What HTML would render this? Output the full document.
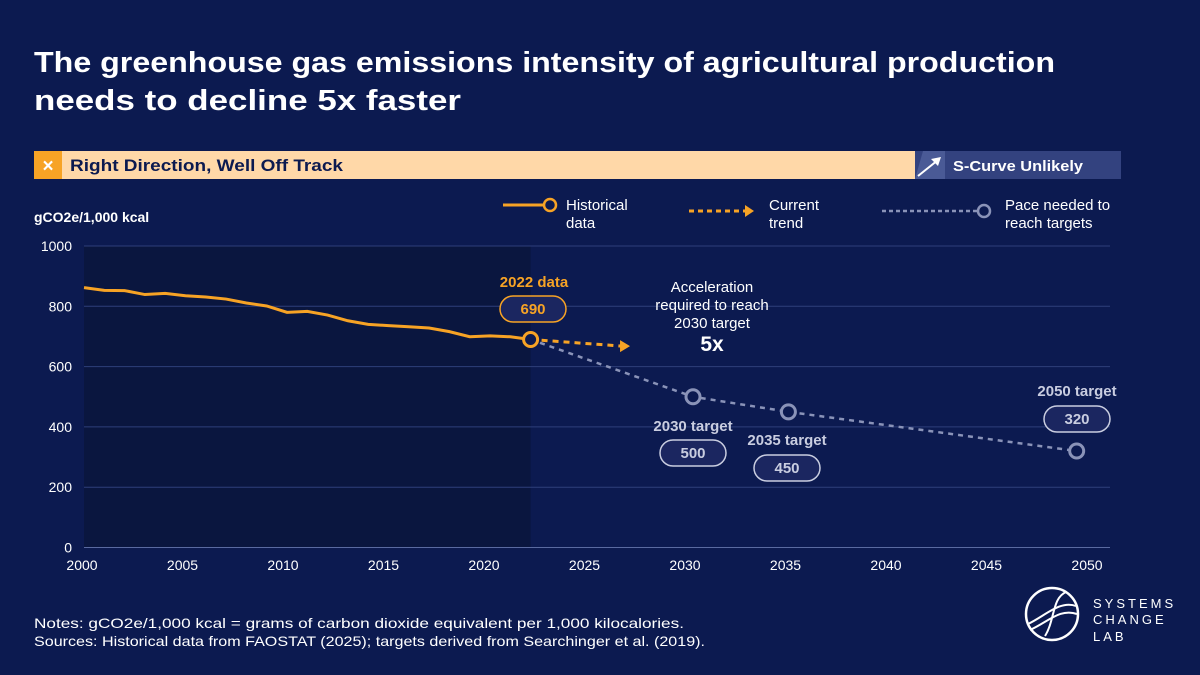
<!DOCTYPE html>
<html><head><meta charset="utf-8"><style>
html,body{margin:0;padding:0}
body{width:1200px;height:675px;background:#0c1a50;font-family:"Liberation Sans","DejaVu Sans",sans-serif;overflow:hidden;position:relative;color:#fff}
</style></head><body>
<svg id="chart" width="1200" height="675" viewBox="0 0 1200 675" style="position:absolute;left:0;top:0">
<text x="34" y="72" font-size="29" font-weight="bold" fill="#fff" textLength="1021" lengthAdjust="spacingAndGlyphs">The greenhouse gas emissions intensity of agricultural production</text>
<text x="34" y="110" font-size="29" font-weight="bold" fill="#fff" textLength="427" lengthAdjust="spacingAndGlyphs">needs to decline 5x faster</text>
<g>
<rect x="34" y="151" width="882" height="28" fill="#ffd8a8"/>
<rect x="34" y="151" width="28" height="28" fill="#f7a325"/>
<text x="48" y="172" font-size="19" font-weight="bold" fill="#fff" text-anchor="middle">×</text>
<text x="70" y="171" font-size="17" font-weight="bold" fill="#0c1a50" textLength="273" lengthAdjust="spacingAndGlyphs">Right Direction, Well Off Track</text>
<rect x="915" y="151" width="206" height="28" fill="#33427f"/>
<polygon points="915,179 923,151 945,151 945,179" fill="#4a5a96"/>
<line x1="918" y1="176" x2="938" y2="160" stroke="#fff" stroke-width="2"/>
<polygon points="941,157 931,159 938,166" fill="#fff"/>
<text x="953" y="171" font-size="15" font-weight="bold" fill="#fff" textLength="130" lengthAdjust="spacingAndGlyphs">S-Curve Unlikely</text>
</g>
<text x="34" y="222" font-size="14" font-weight="bold" fill="#fff">gCO2e/1,000 kcal</text>
<g font-size="15" fill="#fff">
<g><line x1="503" y1="205" x2="545" y2="205" stroke="#f7a325" stroke-width="3"/><circle cx="550" cy="205" r="6" fill="#0c1a50" stroke="#f7a325" stroke-width="2.5"/><text x="566" y="210">Historical</text><text x="566" y="228">data</text></g>
<g><line x1="689" y1="211" x2="745" y2="211" stroke="#f7a325" stroke-width="3" stroke-dasharray="5,4"/><polygon points="745,205 754,211 745,217" fill="#f7a325"/><text x="769" y="210">Current</text><text x="769" y="228">trend</text></g>
<g><line x1="882" y1="211" x2="978" y2="211" stroke="#8a93b8" stroke-width="2.5" stroke-dasharray="4,3"/><circle cx="984" cy="211" r="6" fill="#0c1a50" stroke="#8a93b8" stroke-width="2.5"/><text x="1005" y="210">Pace needed to</text><text x="1005" y="228">reach targets</text></g>
</g>
<g id="plot"></g>
<text x="34" y="628" font-size="14" fill="#fff" textLength="650" lengthAdjust="spacingAndGlyphs">Notes: gCO2e/1,000 kcal = grams of carbon dioxide equivalent per 1,000 kilocalories.</text>
<text x="34" y="646" font-size="14" fill="#fff" textLength="671" lengthAdjust="spacingAndGlyphs">Sources: Historical data from FAOSTAT (2025); targets derived from Searchinger et al. (2019).</text>
<g>
<circle cx="1052" cy="614" r="26" fill="none" stroke="#fff" stroke-width="2.5"/>
<path d="M1028,624 C1045,616 1060,600 1076,606" fill="none" stroke="#fff" stroke-width="2"/>
<path d="M1030,630 C1048,622 1060,608 1077,614" fill="none" stroke="#fff" stroke-width="2"/>
<path d="M1045,636 C1055,620 1052,598 1066,592" fill="none" stroke="#fff" stroke-width="2"/>
<text x="1093" y="608" font-size="13" letter-spacing="3" fill="#fff">SYSTEMS</text>
<text x="1093" y="624" font-size="13" letter-spacing="3" fill="#fff">CHANGE</text>
<text x="1093" y="641" font-size="13" letter-spacing="3" fill="#fff">LAB</text>
</g>
</svg>
<script>
const histYears=[2000,2001,2002,2003,2004,2005,2006,2007,2008,2009,2010,2011,2012,2013,2014,2015,2016,2017,2018,2019,2020,2021,2022];
const histValues=[862,853,852,839,843,835,831,824,811,801,780,783,771,752,740,736,732,728,716,699,702,699,690];
const trendYears=[2022,2026.8];
const trendValues=[690,668];
const targetYears=[2022,2030,2034.7,2048.9];
const targetValues=[690,500,450,320];
const targetLabels=["2030 target","2035 target","2050 target"];
const yTicks=[0,200,400,600,800,1000];
const xTicks=[2000,2005,2010,2015,2020,2025,2030,2035,2040,2045,2050];
const NS="http://www.w3.org/2000/svg";
const X=yr=>84+(yr-2000)*20.3;
const Y=v=>547.5-v*0.3015;
const plot=document.getElementById('plot');
function mk(tag,attrs,parent){const e=document.createElementNS(NS,tag);for(const k in attrs)e.setAttribute(k,attrs[k]);(parent||plot).appendChild(e);return e;}
const hist=mk('rect',{x:X(2000),y:Y(1000),width:X(2022)-X(2000),height:Y(0)-Y(1000),fill:'#0a163f'});


yTicks.forEach(t=>{
 const l=mk('line',{x1:X(2000),x2:1110,y1:Y(t),y2:Y(t),stroke:t===0?'#5a6aa0':'#2e3f7a','stroke-width':1});
 
 
 const tx=mk('text',{x:72,y:Y(t)+5,'font-size':14,fill:'#fff','text-anchor':'end'});
 tx.textContent=t;
 
 
});
xTicks.forEach(t=>{
 const tx=mk('text',{x:82+(t-2000)*20.1,y:570,'font-size':14,fill:'#fff','text-anchor':'middle'});
 tx.textContent=t;
 
 
});
const pace=mk('polyline',{points:targetYears.map((y,i)=>X(y)+','+Y(targetValues[i])).join(' '),fill:'none',stroke:'#8a93b8','stroke-width':2.5,'stroke-dasharray':'5,5'});


const tr=mk('line',{x1:X(trendYears[0]),y1:Y(trendValues[0]),x2:X(trendYears[1])-6,y2:Y(trendValues[1]),stroke:'#f7a325','stroke-width':3,'stroke-dasharray':'6,5'});


const ax=X(trendYears[1]),ay=Y(trendValues[1]);
const ah=mk('polygon',{points:`${ax-8},${ay-6} ${ax+2},${ay} ${ax-8},${ay+6}`,fill:'#f7a325'});


const hl=mk('polyline',{points:histYears.map((y,i)=>X(y)+','+Y(histValues[i])).join(' '),fill:'none',stroke:'#f7a325','stroke-width':3});


const hc=mk('circle',{cx:X(2022),cy:Y(histValues[histValues.length-1]),r:7,fill:'#0c1a50',stroke:'#f7a325','stroke-width':3});


function pill(cx,cy,txt,stroke,color,name){
 const r=mk('rect',{x:cx-33,y:cy-13,width:66,height:26,rx:13,fill:'#1b2660',stroke:stroke,'stroke-width':1.5});
 
 
 const t=mk('text',{x:cx,y:cy+5,'font-size':15,'font-weight':'bold',fill:color,'text-anchor':'middle'});
 t.textContent=txt;
 
 
}
const l22=mk('text',{x:534,y:287,'font-size':15,'font-weight':'bold',fill:'#f7a325','text-anchor':'middle'});
l22.textContent='2022 data';


pill(533,309,histValues[histValues.length-1],'#f7a325','#f7a325','data-2022');
const labelPos=[[693,431,693,453],[787,445,787,468],[1077,396,1077,419]];
for(let i=1;i<targetYears.length;i++){
 const c=mk('circle',{cx:X(targetYears[i]),cy:Y(targetValues[i]),r:7,fill:'#0c1a50',stroke:'#8a93b8','stroke-width':3});
 
 
 const p=labelPos[i-1];
 const t=mk('text',{x:p[0],y:p[1],'font-size':15,'font-weight':'bold',fill:'#c9cde0','text-anchor':'middle'});
 t.textContent=targetLabels[i-1];
 
 
 pill(p[2],p[3],targetValues[i],'#c9cde0','#c9cde0','target-'+i);
}
const acc=['Acceleration','required to reach','2030 target'];
acc.forEach((s,i)=>{
 const t=mk('text',{x:712,y:292+i*18,'font-size':15,fill:'#fff','text-anchor':'middle'});
 t.textContent=s;
 
 
});
const fx=mk('text',{x:712,y:351,'font-size':21,'font-weight':'bold',fill:'#fff','text-anchor':'middle'});
fx.textContent='5x';


</script>
</body></html>
